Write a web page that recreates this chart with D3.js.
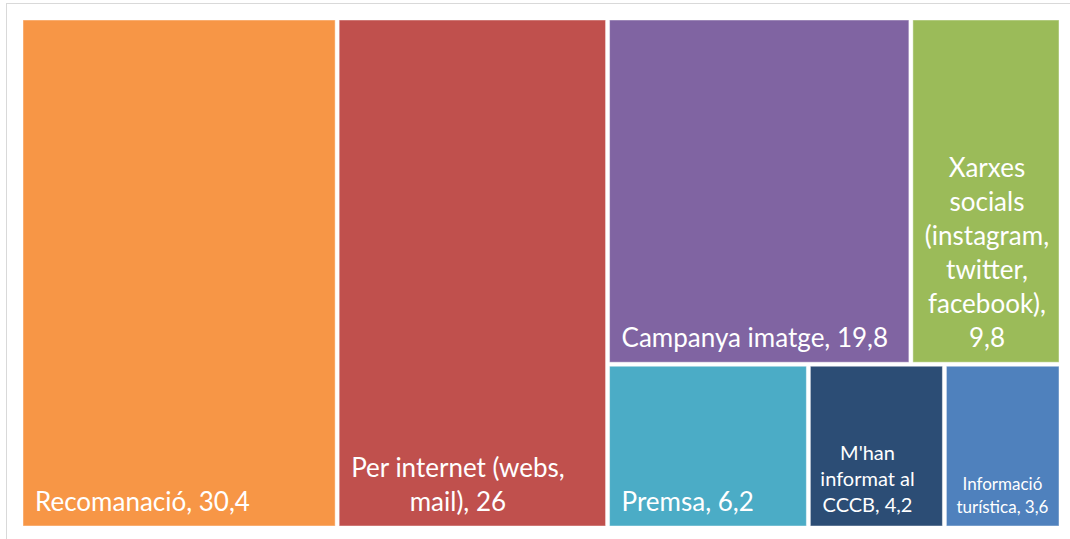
<!DOCTYPE html>
<html>
<head>
<meta charset="utf-8">
<script src="https://cdn.jsdelivr.net/npm/d3@7"></script>
<style>
  body { margin: 0; background: #fff; }
  text { font-family: Lato, "Open Sans", sans-serif; fill: #fff; }
</style>
</head>
<body>
<script>
const width = 1070
const height = 539
const margin = { top: 20, left: 23, right: 11, bottom: 13 }

// data, in the order the treemap lays them out
const categories = [
  "Recomanació", "Per internet (webs, mail)", "Campanya imatge",
  "Xarxes socials (instagram, twitter, facebook)", "Premsa",
  "M'han informat al CCCB", "Informació turística"
]
const values = [30.4, 26, 19.8, 9.8, 6.2, 4.2, 3.6]
// how Excel wrapped each label
const labelLines = [
  ["Recomanació, 30,4"],
  ["Per internet (webs,", "mail), 26"],
  ["Campanya imatge, 19,8"],
  ["Xarxes", "socials", "(instagram,", "twitter,", "facebook),", "9,8"],
  ["Premsa, 6,2"],
  ["M'han", "informat al", "CCCB, 4,2"],
  ["Informació", "turística, 3,6"]
]
// grouping: column, and row inside the right-hand column
const groups = ["a", "b", "c1", "c1", "c2", "c2", "c2"]
const colors = ["#f79646", "#c0504d", "#8064a2", "#9bbb59", "#4bacc6", "#2c4d75", "#4f81bd"]

const svg = d3.select("body").append("svg")
  .attr("width", width)
  .attr("height", height)

// chart frame
svg.append("rect")
  .attr("x", 6.5).attr("y", 3.5)
  .attr("width", width + 10).attr("height", height + 10)
  .attr("fill", "none")
  .attr("stroke", "#d9d9d9")

// build hierarchy: root -> [leaf, leaf, group -> [row, row]]
const leaves = categories.map((name, i) => ({ name, value: values[i], lines: labelLines[i], color: colors[i], group: groups[i] }))
const rowC1 = { children: leaves.filter(d => d.group === "c1") }
const rowC2 = { children: leaves.filter(d => d.group === "c2") }
const rootData = {
  children: [
    leaves.find(d => d.group === "a"),
    leaves.find(d => d.group === "b"),
    { children: [rowC1, rowC2] }
  ]
}

const root = d3.hierarchy(rootData).sum(d => d.children ? 0 : d.value)

d3.treemap()
  .tile(d3.treemapSliceDice)
  .size([width - margin.left - margin.right, height - margin.top - margin.bottom])
  .paddingInner(4)(root)

const g = svg.append("g")
  .attr("transform", `translate(${margin.left},${margin.top})`)

const fontScale = d3.scaleThreshold().domain([122, 140]).range([17, 20, 26])

const cell = g.selectAll(".cell")
  .data(root.leaves())
  .join("g")
  .attr("class", "cell")

cell.append("rect")
  .attr("x", d => d.x0)
  .attr("y", d => d.y0)
  .attr("width", d => d.x1 - d.x0)
  .attr("height", d => d.y1 - d.y0)
  .attr("fill", d => d.data.color)
  .attr("stroke", "rgba(255,255,255,0.45)")
  .attr("stroke-width", 1)

cell.each(function (d) {
  const fs = fontScale(d.x1 - d.x0)
  const lh = fs * 1.31
  const lines = d.data.lines
  const sel = d3.select(this)
  const lastBase = d.y1 - 10 - 0.2 * fs
  const pad = fs > 20 ? 12 : 10
  // measure the widest line to get the text block width
  const widths = lines.map(l => {
    const tmp = sel.append("text").attr("font-size", fs).text(l)
    const w = tmp.node().getComputedTextLength()
    tmp.remove()
    return w
  })
  const maxW = d3.max(widths)
  const multi = lines.length > 1
  sel.selectAll(".label")
    .data(lines)
    .join("text")
    .attr("class", "label")
    .attr("font-size", fs)
    .attr("x", multi ? d.x0 + pad + maxW / 2 : d.x0 + pad)
    .attr("y", (l, i) => lastBase - (lines.length - 1 - i) * lh)
    .attr("text-anchor", multi ? "middle" : "start")
    .text(l => l)
})
</script>
</body>
</html>
